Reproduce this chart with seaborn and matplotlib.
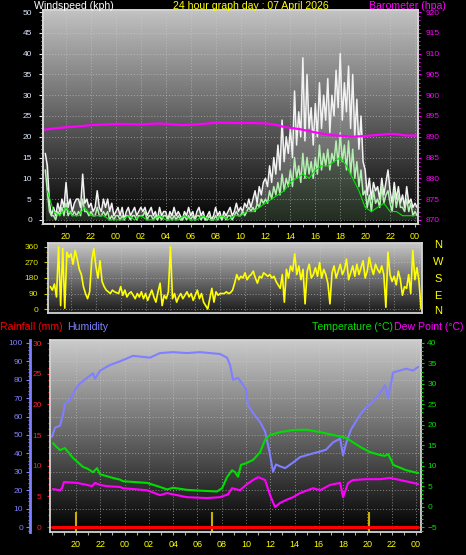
import numpy as np
import matplotlib
matplotlib.use('Agg')
import matplotlib.pyplot as plt
from matplotlib.ticker import MultipleLocator, FixedLocator, FuncFormatter
import seaborn as sns

sns.set_theme(style='ticks')
plt.rcParams['font.family'] = ['Liberation Sans', 'DejaVu Sans']

# hours counted from midnight of the previous day (24 = 00:00, 48 = next 00:00)
# --- wind, 10 minute samples from 18:20 to 00:10
wind_start = 18 + 2 / 6
wind_step = 1 / 6
gust = [16, 13, 4, 1,
        3, 1, 4, 2, 5, 3,  9, 3, 5, 2, 4, 5,  5, 3, 11, 4, 5, 3,  4, 2, 3, 7, 3, 2,
        5, 3, 5, 2, 4, 1,  2, 3, 1, 3, 0, 2,  3, 1, 2, 3, 1, 2,  3, 2, 3, 1, 2, 3,
        1, 2, 0, 3, 1, 2,  2, 0, 2, 1, 3, 1,  2, 1, 0, 2, 1, 3,  1, 2, 0, 2, 3, 1,
        2, 0, 1, 2, 0, 1,  3, 1, 2, 0, 2, 1,  2, 3, 1, 2, 4, 2,  3, 2, 4, 3, 5, 3,
        5, 7, 4, 8, 6, 9,  10, 8, 13, 9, 15, 11,  18, 12, 24, 14, 20, 16,
        22, 15, 31, 18, 26, 20,  39, 19, 35, 22, 27, 18,  28, 20, 33, 22, 30, 24,
        34, 21, 30, 25, 36, 27,  40, 24, 33, 26, 37, 22,  35, 20, 29, 17, 25, 14,
        12, 6, 10, 5, 9, 7,  8, 5, 10, 6, 9, 12,  7, 4, 9, 5, 8, 4,  6, 3, 8, 4, 5, 3,
        4, 3]
wind_avg = [12, 7, 2, 1,
            1, 0, 2, 1, 3, 1,  4, 1, 2, 1, 2, 1,  2, 1, 5, 2, 2, 1,  2, 1, 1, 3, 1, 1,
            2, 1, 2, 0, 1, 0,  1, 1, 0, 1, 0, 1,  1, 0, 1, 1, 0, 1,  1, 1, 2, 0, 1, 1,
            0, 1, 0, 1, 0, 1,  1, 0, 1, 0, 1, 0,  1, 0, 0, 1, 0, 1,  0, 1, 0, 1, 1, 0,
            1, 0, 0, 1, 0, 0,  1, 0, 1, 0, 1, 0,  1, 1, 0, 1, 2, 1,  1, 2, 1, 2, 3, 2,
            3, 2, 4, 3, 5, 4,  5, 4, 7, 5, 8, 6,  9, 6, 11, 7, 10, 8,
            12, 8, 15, 10, 13, 9,  16, 10, 15, 11, 14, 10,  15, 11, 18, 12, 16, 13,
            17, 12, 16, 14, 19, 13,  21, 14, 18, 12, 19, 11,  17, 10, 14, 8, 12, 6,
            7, 3, 6, 2, 7, 4,  5, 3, 8, 4, 6, 7,  4, 2, 7, 3, 6, 3,  3, 2, 5, 2, 4, 1,
            2, 1]
direction = [130, 110, 145, 70,
             360, 20, 350, 5, 330, 300,  320, 260, 340, 290, 230, 200,
             130, 90, 60, 100, 280, 350,  250, 180, 280, 160, 130, 110,
             100, 90, 110, 100, 95, 90,  130, 80, 110, 70, 90, 100,
             80, 60, 90, 70, 100, 60,  90, 50, 80, 110, 70, 40,
             100, 150, 20, 80, 60, 100,  360, 60, 90, 40, 70, 90,
             60, 80, 100, 70, 90, 50,  80, 110, 60, 90, 40, 20,
             0, 60, 120, 40, 100, 80,  90, 90, 90, 100, 90, 95,
             110, 150, 200, 170, 190, 180,  210, 170, 190, 200, 220, 180,
             150, 190, 180, 210, 200, 190,  200, 180, 190, 160, 140, 120,
             200, 40, 230, 180, 250, 220,  320, 200, 250, 170, 230, 30,
             220, 260, 180, 200, 240, 190,  270, 180, 230, 200, 150, 30,
             210, 250, 180, 220, 260, 200,  230, 290, 170, 210, 250, 190,
             260, 200, 240, 280, 180, 220,  300, 240, 200, 260, 230, 210,
             250, 200, 10, 330, 200, 160,  190, 140, 220, 170, 80, 130,
             120, 200, 90, 340, 170, 240,
             160, 0]

# --- 30 minute wind average, 18:30 to 00:00
avg30_start = 18.5
avg30_step = 0.5
wind_avg30 = [7, 2, 1, 3, 1, 1, 3, 1, 1, 1,
              0, 0, 0, 1, 0, 1, 0, 0, 1, 0,
              0, 0, 1, 0, 0, 1, 0, 0, 1, 0,
              1, 1, 2, 2, 3, 4, 5, 6, 7, 9,
              10, 11, 10, 12, 13, 13, 14, 15, 13, 10,
              7, 3, 2, 3, 4, 2, 2, 1, 1, 1]

baro_times = [18.30, 19.00, 20.08, 21.00, 22.00, 24.09, 26.00, 27.50, 29.39, 31.00,
              32.12, 33.40, 35.00, 36.05, 36.80, 37.42, 38.79, 40.06, 41.19, 42.23,
              43.00, 44.08, 44.88, 46.00, 46.60, 47.29, 48.09]
baro = [891.7, 892.0, 892.3, 892.5, 892.8, 893.1, 893.0, 893.2, 892.8, 893.1,
        893.4, 893.3, 893.3, 893.2, 892.9, 892.4, 891.8, 891.0, 890.4, 890.2,
        890.0, 890.2, 890.4, 890.7, 890.6, 890.3, 890.3]

hum_times = [18.02, 18.27, 18.68, 18.93, 19.09, 19.51, 19.92, 20.33, 20.91, 21.40,
             21.57, 21.98, 22.80, 23.62, 24.70, 26.10, 26.92, 27.99, 29.14, 30.21,
             31.86, 32.44, 32.69, 32.93, 33.34, 34.00, 34.17, 34.58, 35.16, 35.57,
             35.90, 36.23, 36.47, 36.80, 37.22, 37.87, 38.45, 39.52, 40.10, 40.59,
             41.17, 41.75, 41.99, 42.24, 42.65, 43.39, 43.89, 44.46, 45.04, 45.45,
             45.70, 46.11, 46.69, 47.18, 47.76, 48.17]
humidity = [49, 54, 55, 61, 67, 69, 74.5, 78, 81, 83.5,
            80.5, 85, 88, 90, 93, 92, 94.5, 95, 94.5, 95,
            94, 92, 88, 80, 81, 75, 66, 62, 57, 52,
            42, 30, 34, 33, 32, 35, 38, 40, 41, 42,
            46, 48, 39, 45.5, 53, 61, 65, 68, 73, 77,
            70, 84, 85, 86, 85, 87]

temp_times = [18.11, 18.43, 18.68, 19.09, 19.75, 20.16, 20.58, 20.99, 21.40, 21.73,
              21.98, 23.05, 23.62, 23.87, 24.86, 25.85, 26.92, 27.50, 27.99, 29.14,
              30.21, 31.61, 32.03, 32.44, 32.85, 33.10, 33.34, 33.59, 34.00, 34.58,
              35.16, 35.57, 35.98, 36.80, 37.87, 38.95, 40.10, 41.17, 42.24, 43.39,
              44.22, 45.04, 45.45, 45.70, 46.03, 46.11, 47.18, 48.17]
temperature = [15.5, 14.5, 13.8, 14.3, 11.9, 10.8, 9.7, 9.2, 8.4, 9.4,
               7.9, 7.0, 6.6, 6.2, 6.0, 5.8, 4.8, 4.2, 4.6, 4.1,
               3.9, 3.7, 4.5, 7.2, 8.9, 8.4, 7.3, 10.2, 10.6, 11.4,
               13.3, 16.3, 17.5, 18.2, 18.7, 18.8, 18.2, 17.5, 16.8, 14.6,
               13.3, 12.6, 12.4, 12.8, 10.9, 10.2, 8.9, 8.2]

dew_times = [18.11, 18.68, 18.85, 19.01, 20.08, 20.91, 21.32, 21.57, 21.98, 22.55,
             23.62, 23.87, 25.85, 26.92, 27.50, 29.14, 30.79, 31.86, 32.52, 32.85,
             33.51, 34.00, 34.58, 34.99, 35.57, 35.98, 36.39, 36.80, 37.29, 37.87,
             38.45, 39.52, 40.10, 40.92, 41.75, 41.99, 42.41, 42.82, 43.89, 45.04,
             45.87, 46.69, 47.76, 48.17]
dew_point = [4.3, 4.0, 4.5, 6.0, 5.8, 5.3, 5.0, 5.8, 5.3, 5.0,
             4.8, 4.5, 4.0, 2.8, 3.3, 2.3, 2.1, 2.3, 3.0, 4.5,
             4.0, 5.3, 6.5, 7.2, 6.5, 2.8, -0.1, 0.9, 1.6, 2.3,
             3.3, 4.5, 4.0, 5.3, 5.8, 2.3, 5.8, 6.5, 6.7, 6.7,
             7.0, 6.5, 5.8, 5.5]

rain_times = [18.02, 24.0, 30.0, 36.0, 42.0, 48.17]
rainfall = [0, 0, 0, 0, 0, 0]
sun_marks = [20.0, 31.2, 44.1]

hour_ticks = [20, 22, 24, 26, 28, 30, 32, 34, 36, 38, 40, 42, 44, 46, 48]
compass = ['N', 'W', 'S', 'E', 'N']

W, H = 466, 555
wind_times = wind_start + wind_step * np.arange(len(gust))
avg30_times = avg30_start + avg30_step * np.arange(len(wind_avg30))


def box(l, t, r, b):
    return [l / W, 1 - b / H, (r - l) / W, (b - t) / H]


def shade(ax, top, bottom):
    g = np.linspace(top, bottom, 256).reshape(-1, 1)
    ax.imshow(g, extent=[0, 1, 0, 1], transform=ax.transAxes, aspect='auto',
              cmap='gray', vmin=0, vmax=1, zorder=0)


def frame(ax, color='#d4d4d4'):
    for s in ax.spines.values():
        s.set_color(color)
        s.set_linewidth(1.3)


def time_axis(ax, lo, hi, labels=True):
    ax.set_xlim(lo, hi)
    ax.xaxis.set_major_locator(FixedLocator(hour_ticks))
    ax.xaxis.set_minor_locator(MultipleLocator(1))
    ax.xaxis.set_major_formatter(FuncFormatter(lambda v, p: f"{int(round(v)) % 24:02d}"))
    ax.tick_params(axis='x', which='both', colors='#b0b0b0', labelcolor='#ffff00',
                   labelsize=6.5, length=2, width=0.8, pad=3.5, labelbottom=labels)
    ax.grid(True, which='major', color='#d0d0d0', linestyle=(0, (1, 2)), linewidth=0.7, alpha=0.55)


fig = plt.figure(figsize=(4.66, 5.55), dpi=100, facecolor='black')

# ---------------- wind speed / barometer
ax_w = fig.add_axes(box(43, 10, 418, 224))
shade(ax_w, 0.76, 0.0)
ax_w.fill_between(wind_times, wind_avg, gust, color='#d8d8d8', alpha=0.3, linewidth=0, zorder=1)
sns.lineplot(x=wind_times, y=gust, ax=ax_w, color='#f2f2f2', linewidth=1.1, estimator=None)
ax_w.fill_between(wind_times, 0, wind_avg, color='#b4eeb0', alpha=0.18, linewidth=0, zorder=1)
sns.lineplot(x=wind_times, y=wind_avg, ax=ax_w, color='#b4eeb0', linewidth=1.1, estimator=None)
sns.lineplot(x=avg30_times, y=wind_avg30, ax=ax_w, color='#00e600', linewidth=0.8,
             estimator=None)
ax_w.set_ylim(-1, 50.5)
ax_w.yaxis.set_major_locator(MultipleLocator(5))
ax_w.yaxis.set_minor_locator(MultipleLocator(1))
ax_w.tick_params(axis='y', which='major', colors='#e0e8ff', labelsize=6, length=3, width=0.8, pad=5)
ax_w.tick_params(axis='y', which='minor', colors='#c0c0c0', length=1.5, width=0.8)
ax_w.set_xlabel('')
ax_w.set_ylabel('')
time_axis(ax_w, 18.15, 48.24)
frame(ax_w)

ax_p = ax_w.twinx()
sns.lineplot(x=baro_times, y=baro, ax=ax_p, color='#ff00ff', linewidth=1.6, estimator=None)
ax_p.set_ylim(869, 920.5)
ax_p.yaxis.set_major_locator(MultipleLocator(5))
ax_p.yaxis.set_minor_locator(MultipleLocator(1))
ax_p.tick_params(axis='y', which='major', colors='#ff00ff', labelsize=6, length=2.5, width=0.8, pad=3)
ax_p.tick_params(axis='y', which='minor', colors='#ff00ff', length=1.5, width=0.8)
ax_p.set_ylabel('')
frame(ax_p)

# ---------------- wind direction
ax_d = fig.add_axes(box(48, 243, 422, 313))
shade(ax_d, 0.78, 0.1)
sns.lineplot(x=wind_times, y=direction, ax=ax_d, color='#ffff00', linewidth=1.2, estimator=None)
ax_d.set_ylim(-23, 383)
ax_d.set_yticks([0, 90, 180, 270, 360])
ax_d.yaxis.set_minor_locator(MultipleLocator(30))
ax_d.tick_params(axis='y', which='major', colors='#c8c800', labelcolor='#e6e600', labelsize=6, length=3, width=0.8, pad=4)
ax_d.tick_params(axis='y', which='minor', colors='#a0a000', length=1.5, width=0.8)
time_axis(ax_d, 18.15, 48.24, labels=False)
ax_d.tick_params(axis='x', which='both', length=0)
ax_d.set_ylabel('')
frame(ax_d)

for letter, y in zip(compass, [245, 262, 279, 296, 311]):
    fig.text(438 / W, 1 - y / H, letter, color='#ffff00', fontsize=8, ha='center', va='center')

# ---------------- humidity / rain / temperature
ax_h = fig.add_axes(box(50, 340, 421, 532))
shade(ax_h, 0.80, 0.0)
sns.lineplot(x=hum_times, y=humidity, ax=ax_h, color='#7f7fff', linewidth=1.5, estimator=None)
ax_h.set_ylim(-2.7, 101.6)
ax_h.yaxis.set_major_locator(MultipleLocator(10))
ax_h.yaxis.set_minor_locator(MultipleLocator(2))
ax_h.tick_params(axis='y', which='major', colors='#7f7fff', labelsize=6, length=3, width=0.8, pad=2)
ax_h.tick_params(axis='y', which='minor', colors='#7f7fff', length=1.5, width=0.8)
time_axis(ax_h, 17.86, 48.41)
ax_h.set_ylabel('')
for s in ['top', 'right', 'bottom']:
    ax_h.spines[s].set_visible(False)
ax_h.spines['left'].set_position(('outward', 14.4))
ax_h.spines['left'].set_color('#7f7fff')
ax_h.spines['left'].set_linewidth(2)

ax_r = ax_h.twinx()
ax_r.vlines(sun_marks, -0.8, 2.45, color='#c8b000', linewidth=1.5)
sns.lineplot(x=rain_times, y=rainfall, ax=ax_r, color='#ff0000', linewidth=2.2, estimator=None)
ax_r.set_ylim(-0.8, 30.5)
ax_r.yaxis.tick_left()
ax_r.yaxis.set_major_locator(MultipleLocator(5))
ax_r.yaxis.set_minor_locator(MultipleLocator(1))
ax_r.tick_params(axis='y', which='major', colors='#ff2020', labelsize=6, length=2.5, width=0.8, pad=3.5)
ax_r.tick_params(axis='y', which='minor', colors='#ff2020', length=1.5, width=0.8)
ax_r.set_ylabel('')
frame(ax_r)

ax_t = ax_h.twinx()
sns.lineplot(x=temp_times, y=temperature, ax=ax_t, color='#00dd00', linewidth=1.5, estimator=None)
sns.lineplot(x=dew_times, y=dew_point, ax=ax_t, color='#ff00ff', linewidth=1.5, estimator=None)
ax_t.set_ylim(-6.2, 40.7)
ax_t.yaxis.set_major_locator(MultipleLocator(5))
ax_t.yaxis.set_minor_locator(MultipleLocator(1))
ax_t.tick_params(axis='y', which='major', colors='#00dd00', labelsize=6, length=2.5, width=0.8, pad=2)
ax_t.tick_params(axis='y', which='minor', colors='#00dd00', length=1.5, width=0.8)
ax_t.set_ylabel('')
for s in ax_t.spines.values():
    s.set_visible(False)

# ---------------- titles
def label(x, y, s, color, ha='left'):
    fig.text(x / W, 1 - y / H, s, color=color, fontsize=7.6, ha=ha, va='center')

label(34, 6, 'Windspeed (kph)', 'white')
label(173, 6, '24 hour graph day : 07 April 2026', '#ffff00')
label(446, 6, 'Barometer (hpa)', '#ff00ff', ha='right')
label(0, 327, 'Rainfall (mm)', '#ff0000')
label(67, 327, 'Humidity', '#8080ff')
label(393, 327, 'Temperature (°C)', '#00e000', ha='right')
label(464, 327, 'Dew Point (°C)', '#ff00ff', ha='right')

fig.savefig('out.png', dpi=100, facecolor='black')
